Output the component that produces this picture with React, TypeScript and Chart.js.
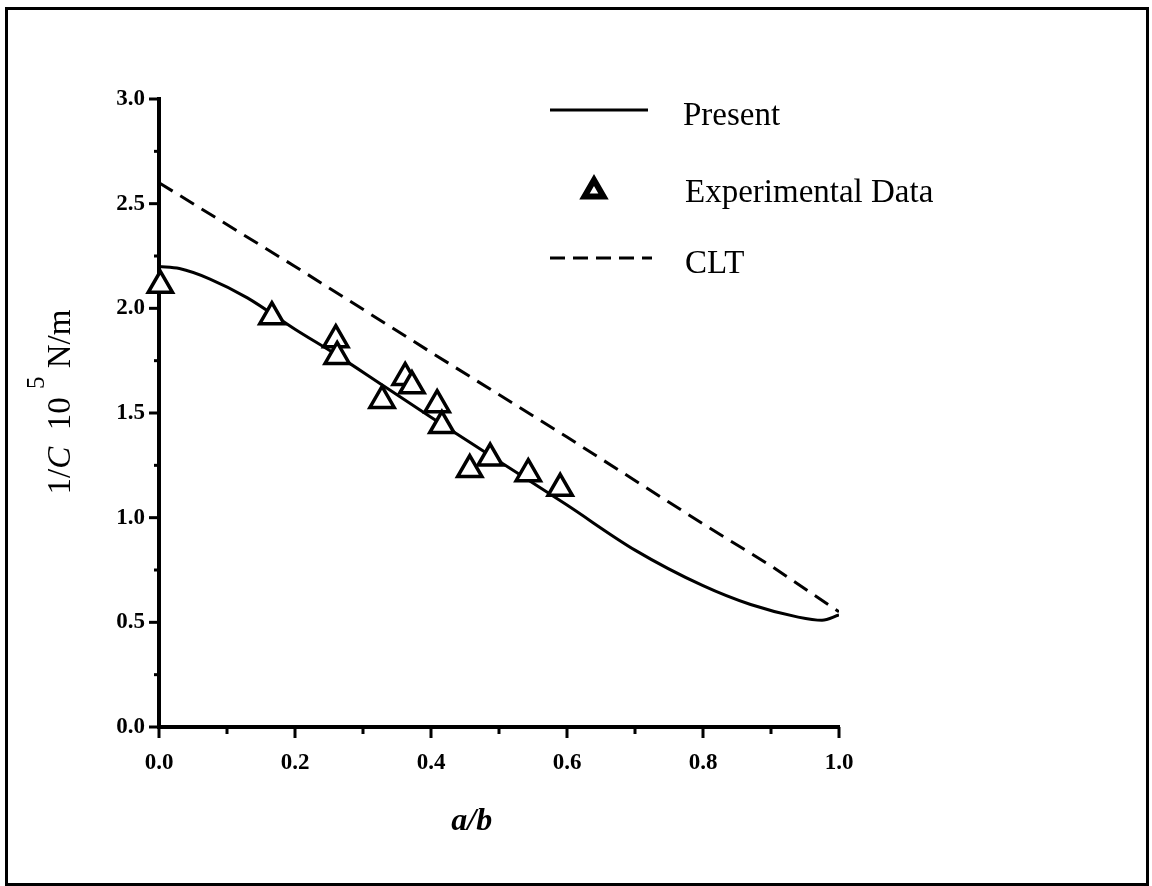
import React, { useEffect, useRef } from "react";
import { Chart, registerables } from "chart.js";

Chart.register(...registerables);

// Present (solid curve)
const presentX = [0, 0.03, 0.075, 0.13, 0.2, 0.26, 0.33, 0.4, 0.5, 0.6, 0.7, 0.8, 0.87, 0.94, 0.975, 1.0];
const presentY = [2.2, 2.19, 2.14, 2.05, 1.9, 1.78, 1.63, 1.48, 1.27, 1.06, 0.845, 0.675, 0.585, 0.525, 0.51, 0.535];

// CLT (dashed line)
const cltX = [0, 0.2, 0.4, 0.6, 0.8, 0.9, 1.0];
const cltY = [2.6, 2.2, 1.79, 1.385, 0.97, 0.77, 0.55];

// Experimental data (triangles)
const expX = [0.002, 0.166, 0.26, 0.262, 0.328, 0.362, 0.372, 0.409, 0.416, 0.457, 0.487, 0.543, 0.59];
const expY = [2.11, 1.96, 1.85, 1.77, 1.56, 1.67, 1.63, 1.54, 1.44, 1.23, 1.285, 1.21, 1.14];

const legendLabels = ["Present", "Experimental Data", "CLT"];
const xTitle = "a/b";

const SERIF = '"Liberation Serif", "Times New Roman", serif';

const toPts = (xs: number[], ys: number[]) => xs.map((x, i) => ({ x, y: ys[i] }));

const decor = {
  id: "decor",
  afterDraw(chart: any) {
    const ctx: CanvasRenderingContext2D = chart.ctx;
    const xs = chart.scales.x;
    const ys = chart.scales.y;
    ctx.save();
    ctx.strokeStyle = "#000";
    ctx.fillStyle = "#000";

    // outer frame
    ctx.lineWidth = 3;
    ctx.strokeRect(6.5, 8.5, 1141, 876);

    // ticks
    ctx.lineWidth = 3;
    xs.ticks.forEach((t: any) => {
      const px = xs.getPixelForValue(t.value);
      const major = Math.round(t.value * 10) % 2 === 0;
      ctx.beginPath();
      ctx.moveTo(px, xs.top);
      ctx.lineTo(px, xs.top + (major ? 11 : 7));
      ctx.stroke();
    });
    ys.ticks.forEach((t: any) => {
      const py = ys.getPixelForValue(t.value);
      const major = Math.round(t.value * 4) % 2 === 0;
      ctx.beginPath();
      ctx.moveTo(ys.right, py);
      ctx.lineTo(ys.right - (major ? 10 : 5), py);
      ctx.stroke();
    });

    // legend
    ctx.textBaseline = "middle";
    ctx.textAlign = "left";
    ctx.font = `33px ${SERIF}`;
    ctx.lineWidth = 3;
    ctx.setLineDash([]);
    ctx.beginPath();
    ctx.moveTo(550, 110);
    ctx.lineTo(648, 110);
    ctx.stroke();
    ctx.fillText(legendLabels[0], 683, 116);

    // legend triangle
    ctx.lineWidth = 6;
    ctx.lineJoin = "miter";
    const cx = 594, cy = 191, r = 11;
    ctx.beginPath();
    ctx.moveTo(cx, cy - r);
    ctx.lineTo(cx + r * 0.866, cy + r / 2);
    ctx.lineTo(cx - r * 0.866, cy + r / 2);
    ctx.closePath();
    ctx.stroke();
    ctx.fillText(legendLabels[1], 685, 193);

    ctx.lineWidth = 3;
    ctx.setLineDash([15, 8]);
    ctx.beginPath();
    ctx.moveTo(550, 258);
    ctx.lineTo(652, 258);
    ctx.stroke();
    ctx.setLineDash([]);
    ctx.fillText(legendLabels[2], 685, 264);

    // x title
    ctx.font = `italic bold 32px ${SERIF}`;
    ctx.textAlign = "center";
    ctx.fillText(xTitle, xs.getPixelForValue(0.46), 822);

    // y title: "1/C  10^5 N/m"
    ctx.textAlign = "left";
    ctx.textBaseline = "alphabetic";
    const parts: { t: string; font: string; dy: number }[] = [
      { t: "1/", font: `33px ${SERIF}`, dy: 0 },
      { t: "C", font: `italic 33px ${SERIF}`, dy: 0 },
      { t: "  10 ", font: `33px ${SERIF}`, dy: 0 },
      { t: "5", font: `25px ${SERIF}`, dy: -26 },
      { t: " N/m", font: `33px ${SERIF}`, dy: 0 },
    ];
    let total = 0;
    parts.forEach((p) => {
      ctx.font = p.font;
      total += ctx.measureText(p.t).width;
    });
    ctx.translate(70, 402);
    ctx.rotate(-Math.PI / 2);
    let off = -total / 2;
    parts.forEach((p) => {
      ctx.font = p.font;
      ctx.fillText(p.t, off, p.dy);
      off += ctx.measureText(p.t).width;
    });
    ctx.restore();
  },
};

export default function App() {
  const ref = useRef<HTMLCanvasElement | null>(null);
  useEffect(() => {
    if (!ref.current) return;
    const tickFont = { family: SERIF, size: 23, weight: "bold" as const };
    const chart = new Chart(ref.current, {
      type: "scatter",
      data: {
        datasets: [
          {
            label: legendLabels[1],
            data: toPts(expX, expY),
            showLine: false,
            pointStyle: "triangle",
            pointRadius: 14,
            pointBorderWidth: 3.5,
            pointBorderColor: "#000",
            pointBackgroundColor: "#fff",
            clip: false,
          } as any,
          {
            label: legendLabels[0],
            data: toPts(presentX, presentY),
            showLine: true,
            pointRadius: 0,
            borderColor: "#000",
            borderWidth: 3,
            cubicInterpolationMode: "monotone",
          } as any,
          {
            label: legendLabels[2],
            data: toPts(cltX, cltY),
            showLine: true,
            pointRadius: 0,
            borderColor: "#000",
            borderWidth: 3,
            borderDash: [16, 9],
          } as any,
        ],
      },
      options: {
        animation: false,
        responsive: false,
        events: [],
        layout: { padding: { top: 99, right: 313, bottom: 0, left: 0 } },
        plugins: { legend: { display: false }, tooltip: { enabled: false } },
        scales: {
          x: {
            type: "linear",
            min: 0,
            max: 1,
            ticks: {
              stepSize: 0.1,
              autoSkip: false,
              maxRotation: 0,
              padding: 12,
              color: "#000",
              font: tickFont,
              callback: (v: any) => (Math.round(Number(v) * 10) % 2 === 0 ? Number(v).toFixed(1) : ""),
            },
            grid: { drawOnChartArea: false, drawTicks: true, tickLength: 10, tickColor: "rgba(0,0,0,0)" },
            border: { color: "#000", width: 4 },
            afterFit: (s: any) => {
              s.height = 159;
            },
          },
          y: {
            type: "linear",
            min: 0,
            max: 3,
            ticks: {
              stepSize: 0.25,
              autoSkip: false,
              padding: 5,
              color: "#000",
              font: tickFont,
              callback: (v: any) => (Math.round(Number(v) * 4) % 2 === 0 ? Number(v).toFixed(1) : ""),
            },
            grid: { drawOnChartArea: false, drawTicks: true, tickLength: 9, tickColor: "rgba(0,0,0,0)" },
            border: { color: "#000", width: 4 },
            afterFit: (s: any) => {
              s.width = 159;
            },
          },
        },
      },
      plugins: [decor],
    });
    return () => chart.destroy();
  }, []);
  return (
    <div style={{ position: "absolute", left: 0, top: 0, width: 1152, height: 886, background: "#fff" }}>
      <canvas ref={ref} width={1152} height={886} style={{ position: "absolute", left: 0, top: 0 }} />
    </div>
  );
}
